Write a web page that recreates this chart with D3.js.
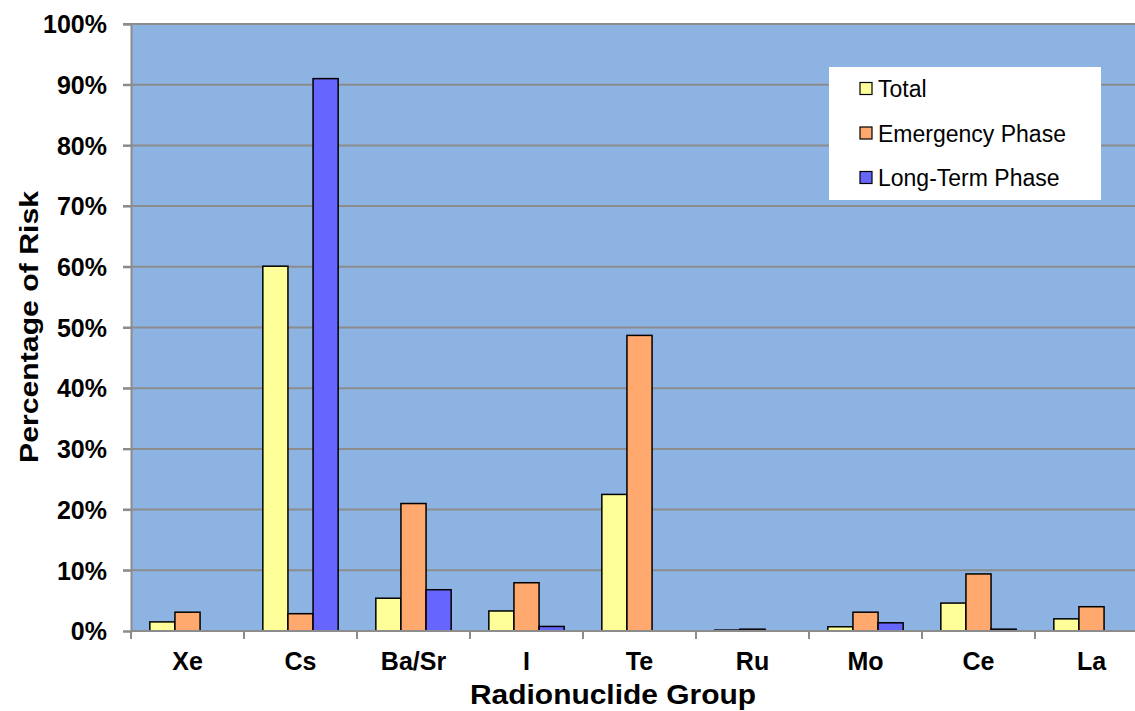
<!DOCTYPE html>
<html><head><meta charset="utf-8">
<script src="https://cdn.jsdelivr.net/npm/d3@7"></script>
<style>body{margin:0;background:#fff;}svg{display:block;font-family:"Liberation Sans",Arial,sans-serif;}</style>
</head><body>
<svg id="c" width="1135" height="711"></svg>
<script>
const categories = ["Xe","Cs","Ba/Sr","I","Te","Ru","Mo","Ce","La"];
const seriesNames = ["Total","Emergency Phase","Long-Term Phase"];
const total     = [1.5, 60.1, 5.4, 3.3, 22.5, 0.15, 0.7, 4.6, 2.0];
const emergency = [3.1, 2.85, 21.0, 7.95, 48.7, 0.3, 3.1, 9.4, 4.0];
const longTerm  = [0, 91.0, 6.8, 0.75, 0, 0, 1.35, 0.3, 0];
const yTicks = [0,10,20,30,40,50,60,70,80,90,100];
const colors = ["#FFFF99","#FFA96E","#6666FF"];

const svg = d3.select("#c");
const L = 131, R = 1148, T = 24, B = 631;
const x = d3.scaleBand().domain(categories).range([L, R]).paddingInner(0).paddingOuter(0);
const y = d3.scaleLinear().domain([0,100]).range([B, T]);
const bw = x.bandwidth() / 4.5;
const x1 = d3.scaleBand().domain(seriesNames).range([bw*0.75, bw*3.75]);

svg.append("rect").attr("x", L).attr("y", T).attr("width", R-L).attr("height", B-T).attr("fill", "#8DB3E2");

// gridlines
svg.append("g").selectAll("line").data(yTicks.filter(d=>d>0)).join("line")
  .attr("x1", L-8).attr("x2", R).attr("y1", d=>y(d)).attr("y2", d=>y(d))
  .attr("stroke", "#8C8C8C").attr("stroke-width", 2);

// bars
const series = [total, emergency, longTerm];
const g = svg.append("g");
categories.forEach((c, i) => {
  series.forEach((s, k) => {
    const v = s[i];
    if (v <= 0) return;
    g.append("rect")
      .attr("x", x(c) + x1(seriesNames[k]))
      .attr("y", y(v))
      .attr("width", x1.bandwidth())
      .attr("height", B - y(v))
      .attr("fill", colors[k]).attr("stroke", "#000").attr("stroke-width", 1.5);
  });
});

// y axis
const ya = svg.append("g").attr("transform", `translate(${L},0)`)
  .call(d3.axisLeft(y).tickValues(yTicks).tickFormat(d=>d+"%").tickSize(8).tickPadding(16));
ya.attr("font-size", null).attr("font-family", null);
ya.select(".domain").attr("stroke", "#8C8C8C").attr("stroke-width", 2);
ya.selectAll(".tick line").attr("stroke", "#8C8C8C").attr("stroke-width", 2);
ya.selectAll("text").style("font-size", "25px").style("font-weight", "bold").attr("fill", "#000")
  .attr("dy", "0.35em");

// x axis
const xa = svg.append("g").attr("transform", `translate(0,${B})`);
xa.append("line").attr("x1", L).attr("x2", R).attr("stroke", "#8C8C8C").attr("stroke-width", 2);
const bounds = categories.map(c => x(c)).concat([R]);
xa.selectAll(".tk").data(bounds).join("line").attr("class","tk")
  .attr("x1", d=>d).attr("x2", d=>d).attr("y1", 0).attr("y2", 8)
  .attr("stroke", "#8C8C8C").attr("stroke-width", 2);
xa.selectAll("text").data(categories).join("text")
  .attr("x", d => x(d) + x.bandwidth()/2).attr("y", 39)
  .attr("text-anchor", "middle").style("font-size", "25px").style("font-weight", "bold").text(d=>d);

// axis titles
svg.append("text").attr("x", 470).attr("y", 704)
  .attr("textLength", 286).attr("lengthAdjust", "spacingAndGlyphs")
  .style("font-size", "27px").style("font-weight", "bold").text("Radionuclide Group");
svg.append("text").attr("transform", "translate(38,463) rotate(-90)")
  .attr("textLength", 272).attr("lengthAdjust", "spacingAndGlyphs")
  .style("font-size", "26px").style("font-weight", "bold").text("Percentage of Risk");

// legend
const lg = svg.append("g");
lg.append("rect").attr("x", 829).attr("y", 67).attr("width", 272).attr("height", 133).attr("fill", "#fff");
seriesNames.forEach((n, k) => {
  const cy = 89 + k*44.5;
  lg.append("rect").attr("x", 860).attr("y", cy-6.5).attr("width", 12).attr("height", 12)
    .attr("fill", colors[k]).attr("stroke", "#000").attr("stroke-width", 1.2);
  lg.append("text").attr("x", 878).attr("y", cy+8).style("font-size", "23px").text(n);
});
</script>
</body></html>
